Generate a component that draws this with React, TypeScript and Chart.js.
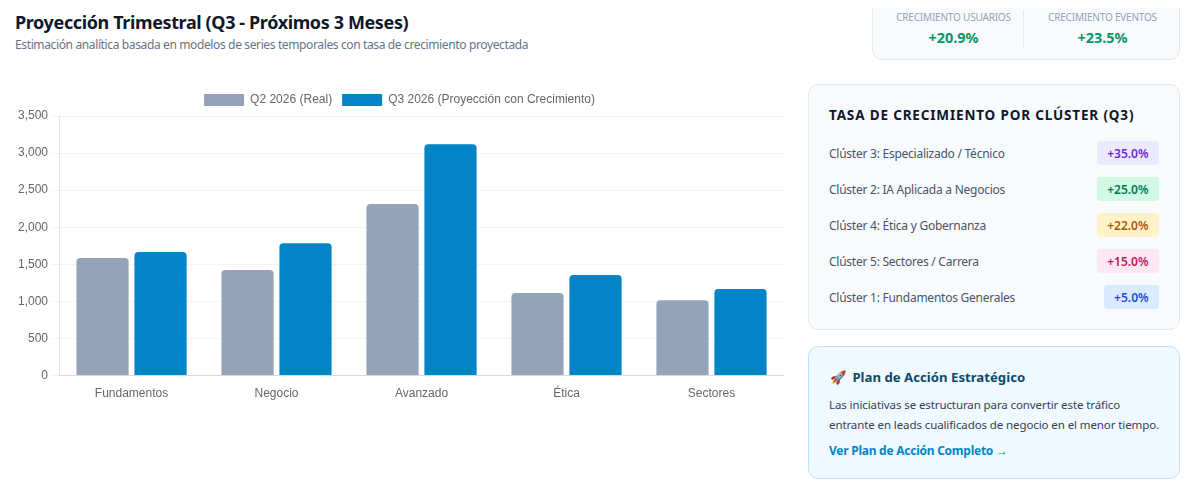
import React, { useEffect, useRef } from "react";
import { Chart, registerables } from "chart.js";

Chart.register(...registerables);

const categories = ["Fundamentos", "Negocio", "Avanzado", "Ética", "Sectores"];
const q2Values = [1585, 1425, 2315, 1112, 1015];
const q3Values = [1665, 1785, 3120, 1355, 1168];
const q2Label = "Q2 2026 (Real)";
const q3Label = "Q3 2026 (Proyección con Crecimiento)";

const clusterNames = [
  "Clúster 3: Especializado / Técnico",
  "Clúster 2: IA Aplicada a Negocios",
  "Clúster 4: Ética y Gobernanza",
  "Clúster 5: Sectores / Carrera",
  "Clúster 1: Fundamentos Generales",
];
const clusterRates = ["+35.0%", "+25.0%", "+22.0%", "+15.0%", "+5.0%"];
const clusterBg = ["#ede9fe", "#d1fae5", "#fef3c7", "#fce7f3", "#dbeafe"];
const clusterFg = ["#6d28d9", "#047857", "#b45309", "#be185d", "#1d4ed8"];

const FONT = '"Noto Sans", sans-serif';

export default function App() {
  const ref = useRef<HTMLCanvasElement>(null);
  useEffect(() => {
    const chart = new Chart(ref.current!, {
      type: "bar",
      data: {
        labels: categories,
        datasets: [
          { label: q2Label, data: q2Values, backgroundColor: "#94a3b8", borderRadius: 4 },
          { label: q3Label, data: q3Values, backgroundColor: "#0284c7", borderRadius: 4 },
        ],
      },
      options: {
        animation: false,
        responsive: false,
        maintainAspectRatio: false,
        layout: { padding: 0 },
        plugins: { legend: { position: "top" } },
        scales: {
          y: {
            beginAtZero: true,
            min: 0,
            max: 3500,
            ticks: { stepSize: 500 },
            grid: { color: "#f1f5f9" },
          },
          x: { grid: { display: false } },
        },
      },
    });
    return () => chart.destroy();
  }, []);

  const kpiLabel: React.CSSProperties = { position: "absolute", top: 21, textAlign: "center", fontSize: 10, lineHeight: "15px", letterSpacing: -0.2, color: "#94a3b8", whiteSpace: "nowrap" };
  const kpiValue: React.CSSProperties = { position: "absolute", top: 39, textAlign: "center", fontSize: 14.4, lineHeight: "20px", fontWeight: 700, color: "#059669" };

  return (
    <div style={{ position: "relative", width: 1190, height: 490, margin: -8, background: "#fff", fontFamily: FONT, overflow: "hidden" }}>
      <div style={{ position: "absolute", left: 15, top: 9, fontSize: 18, lineHeight: "26px", fontWeight: 700, letterSpacing: -0.38, color: "#0f172a", whiteSpace: "nowrap" }}>
        Proyección Trimestral (Q3 - Próximos 3 Meses)
      </div>
      <div style={{ position: "absolute", left: 15, top: 36, fontSize: 12, lineHeight: "18px", letterSpacing: -0.37, color: "#64748b", whiteSpace: "nowrap" }}>
        Estimación analítica basada en modelos de series temporales con tasa de crecimiento proyectada
      </div>

      <div style={{ position: "absolute", left: 872, top: -12, width: 308, height: 72, boxSizing: "border-box", background: "#f8fafc", border: "1px solid #e2e8f0", borderRadius: 10 }}>
        <div style={{ ...kpiLabel, left: 5.5, width: 150 }}>CRECIMIENTO USUARIOS</div>
        <div style={{ ...kpiValue, left: 5.5, width: 150 }}>+20.9%</div>
        <div style={{ position: "absolute", left: 150, top: 21, width: 1, height: 39, background: "#e2e8f0" }} />
        <div style={{ ...kpiLabel, left: 152, width: 155 }}>CRECIMIENTO EVENTOS</div>
        <div style={{ ...kpiValue, left: 152, width: 155 }}>+23.5%</div>
      </div>

      <div style={{ position: "absolute", left: 15, top: 84, width: 769, height: 320 }}>
        <canvas ref={ref} width={769} height={320} style={{ display: "block", width: 769, height: 320 }} />
      </div>

      <div style={{ position: "absolute", left: 808, top: 84, width: 372, height: 246, boxSizing: "border-box", background: "#f8fafc", border: "1px solid #e2e8f0", borderRadius: 10 }}>
        <div style={{ position: "absolute", left: 20, top: 20, fontSize: 13.5, lineHeight: "20px", fontWeight: 700, letterSpacing: 0.84, color: "#0f172a", whiteSpace: "nowrap" }}>
          TASA DE CRECIMIENTO POR CLÚSTER (Q3)
        </div>
        {clusterNames.map((name, i) => (
          <div key={name} style={{ position: "absolute", left: 20, right: 20, top: 56 + i * 36, height: 24 }}>
            <span style={{ position: "absolute", left: 0, top: 0, fontSize: 12, lineHeight: "26px", letterSpacing: -0.25, color: "#475569", whiteSpace: "nowrap" }}>{name}</span>
            <span style={{ position: "absolute", right: 0, top: 0, height: 24, lineHeight: "25px", padding: "0 10.5px", borderRadius: 4, fontSize: 12, fontWeight: 600, background: clusterBg[i], color: clusterFg[i] }}>{clusterRates[i]}</span>
          </div>
        ))}
      </div>

      <div style={{ position: "absolute", left: 808, top: 346, width: 372, height: 133, boxSizing: "border-box", background: "#f0f9ff", border: "1px solid #bae6fd", borderRadius: 10 }}>
        <div style={{ position: "absolute", left: 21, top: 20, fontSize: 13.2, lineHeight: "20px", fontWeight: 700, color: "#0c4a6e", whiteSpace: "nowrap" }}><span style={{ marginRight: 3 }}>🚀</span> Plan de Acción Estratégico</div>
        <div style={{ position: "absolute", left: 20, top: 48, fontSize: 11.5, lineHeight: "20px", letterSpacing: -0.1, color: "#334155", whiteSpace: "nowrap" }}>
          Las iniciativas se estructuran para convertir este tráfico<br />entrante en leads cualificados de negocio en el menor tiempo.
        </div>
        <div style={{ position: "absolute", left: 20, top: 94, fontSize: 12, lineHeight: "20px", fontWeight: 700, letterSpacing: -0.25, color: "#0284c7", whiteSpace: "nowrap" }}>Ver Plan de Acción Completo →</div>
      </div>
    </div>
  );
}
